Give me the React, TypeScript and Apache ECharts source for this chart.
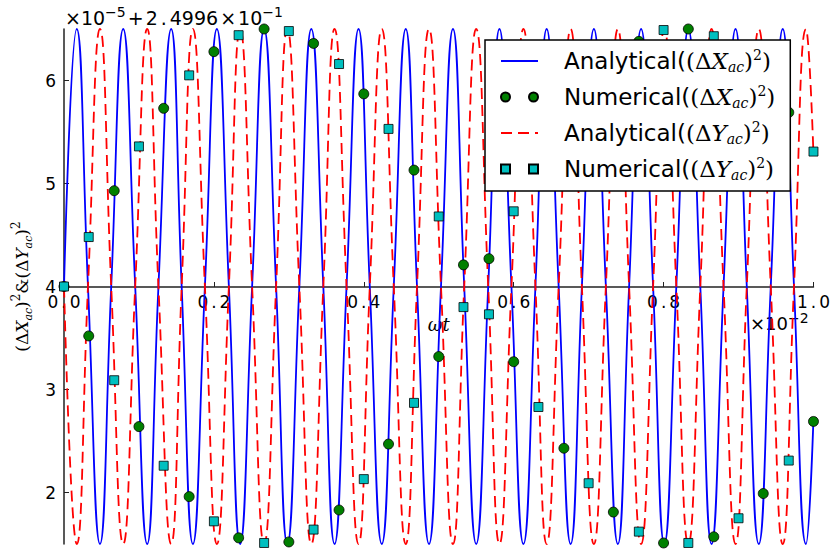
import React, { useEffect, useRef } from "react";
import * as echarts from "echarts";

// Analytical curves: key points (crossings, peaks, troughs)
const curveT = [
  0, 0.017, 0.032, 0.048, 0.063, 0.079, 0.095, 0.111, 0.126, 0.143, 0.157, 0.172,
  0.188, 0.204, 0.22, 0.235, 0.251, 0.267, 0.283, 0.298, 0.314, 0.33, 0.346, 0.361,
  0.377, 0.393, 0.408, 0.424, 0.44, 0.456, 0.471, 0.487, 0.503, 0.519, 0.534, 0.55,
  0.566, 0.581, 0.597, 0.613, 0.629, 0.644, 0.66, 0.676, 0.691, 0.707, 0.723, 0.739,
  0.754, 0.77, 0.786, 0.801, 0.817, 0.833, 0.849, 0.864, 0.88, 0.896, 0.911, 0.927,
  0.943, 0.959, 0.974, 0.99, 1.0,
];
const analyticalX = [
  4, 6.5, 4, 1.5, 4, 6.5, 4, 1.5, 4, 6.5, 4, 1.5,
  4, 6.5, 4, 1.5, 4, 6.5, 4, 1.5, 4, 6.5, 4, 1.5,
  4, 6.5, 4, 1.5, 4, 6.5, 4, 1.5, 4, 6.5, 4, 1.5,
  4, 6.5, 4, 1.5, 4, 6.5, 4, 1.5, 4, 6.5, 4, 1.5,
  4, 6.5, 4, 1.5, 4, 6.5, 4, 1.5, 4, 6.5, 4, 1.5,
  4, 6.5, 4, 1.5, 2.72,
];
const analyticalY = [
  4, 1.5, 4, 6.5, 4, 1.5, 4, 6.5, 4, 1.5, 4, 6.5,
  4, 1.5, 4, 6.5, 4, 1.5, 4, 6.5, 4, 1.5, 4, 6.5,
  4, 1.5, 4, 6.5, 4, 1.5, 4, 6.5, 4, 1.5, 4, 6.5,
  4, 1.5, 4, 6.5, 4, 1.5, 4, 6.5, 4, 1.5, 4, 6.5,
  4, 1.5, 4, 6.5, 4, 1.5, 4, 6.5, 4, 1.5, 4, 6.5,
  4, 1.5, 4, 6.5, 5.28,
];

// Numerical samples
const sampleT = [
  0, 0.033, 0.067, 0.1, 0.133, 0.167, 0.2, 0.233, 0.267, 0.3, 0.333, 0.367, 0.4,
  0.433, 0.467, 0.5, 0.533, 0.567, 0.6, 0.633, 0.667, 0.7, 0.733, 0.767, 0.8,
  0.833, 0.867, 0.9, 0.933, 0.967, 1.0,
];
const numericalX = [
  4.0, 3.52, 4.93, 2.64, 5.73, 1.96, 6.28, 1.56, 6.5, 1.52, 6.36, 1.83, 5.87,
  2.47, 5.13, 3.32, 4.21, 4.27, 3.27, 5.17, 2.43, 5.91, 1.81, 6.38, 1.51,
  6.5, 1.57, 6.25, 1.99, 5.69, 2.69,
];
const numericalY = [
  4.0, 4.48, 3.09, 5.36, 2.26, 6.05, 1.72, 6.44, 1.51, 6.48, 1.64, 6.16, 2.13,
  5.53, 2.87, 4.68, 3.8, 3.73, 4.73, 2.83, 5.57, 2.09, 6.19, 1.62, 6.49,
  1.51, 6.43, 1.75, 6.01, 2.31, 5.31,
];

const yTicks = [2, 3, 4, 5, 6];

const names = [
  "Analytical((ΔX_ac)^2)",
  "Numerical((ΔX_ac)^2)",
  "Analytical((ΔY_ac)^2)",
  "Numerical((ΔY_ac)^2)",
];
const legendRich: Record<string, string> = {
  [names[0]]: "{s|}Analytical({m|(Δ}{i|X}{sub|ac}{m|)}{sup|2}{m|)}",
  [names[1]]: "{s|}Numerical({m|(Δ}{i|X}{sub|ac}{m|)}{sup|2}{m|)}",
  [names[2]]: "{s|}Analytical({m|(Δ}{i|Y}{sub|ac}{m|)}{sup|2}{m|)}",
  [names[3]]: "{s|}Numerical({m|(Δ}{i|Y}{sub|ac}{m|)}{sup|2}{m|)}",
};

const zip = (a: number[], b: number[]) => a.map((v, i) => [v, b[i]]);

export default function App() {
  const ref = useRef<HTMLDivElement>(null);
  useEffect(() => {
    const chart = echarts.init(ref.current!, null, { renderer: "svg" });
    const axisColor = "#222";
    const option: any = {
      animation: false,
      backgroundColor: "#fff",
      grid: { left: 64, right: 18, top: 29, bottom: 8, containLabel: false },
      xAxis: {
        type: "value",
        min: 0,
        max: 1,
        interval: 0.2,
        position: "bottom",
        offset: -257,
        name: "ωt",
        nameLocation: "middle",
        nameGap: 28,
        nameTextStyle: { fontFamily: "DejaVu Serif", fontStyle: "italic", fontSize: 18, color: "#000", verticalAlign: "top" },
        axisLine: { show: true, lineStyle: { color: axisColor, width: 1.5 } },
        axisTick: { show: true, inside: true, length: 5, lineStyle: { color: axisColor, width: 1 } },
        splitLine: { show: false },
        axisLabel: {
          margin: 6,
          fontFamily: "DejaVu Sans",
          fontSize: 17,
          color: "#000",
          formatter: (v: number) => {
            const s = v.toFixed(1).split(".");
            return `${s[0]}{d|.}${s[1]}`;
          },
          rich: { d: { padding: [0, 3, 0, 3], fontSize: 17, fontFamily: "DejaVu Sans" } },
        },
      },
      yAxis: {
        type: "value",
        min: 1.5,
        max: 6.5,
        name: "{m|(Δ}{i|X}{sub|ac}{m|)}{sup|2}{m|&(Δ}{i|Y}{sub|ac}{m|)}{sup|2}",
        nameLocation: "middle",
        nameRotate: 90,
        nameGap: 27,
        nameTextStyle: {
          color: "#000",
          rich: {
            m: { fontFamily: "DejaVu Serif", fontSize: 17, lineHeight: 24, color: "#000" },
            i: { fontFamily: "DejaVu Serif", fontStyle: "italic", fontSize: 17, lineHeight: 24, color: "#000" },
            sub: { fontFamily: "DejaVu Serif", fontStyle: "italic", fontSize: 11, lineHeight: 12, verticalAlign: "bottom", color: "#000" },
            sup: { fontFamily: "DejaVu Serif", fontSize: 12, lineHeight: 12, verticalAlign: "top", color: "#000" },
          },
        },
        axisLine: { show: true, lineStyle: { color: axisColor, width: 1.5 } },
        axisTick: { show: true, inside: true, length: 5, customValues: yTicks, lineStyle: { color: axisColor, width: 1 } },
        splitLine: { show: false },
        axisLabel: {
          customValues: yTicks,
          margin: 8,
          fontFamily: "DejaVu Sans",
          fontSize: 17,
          color: "#000",
        },
      },
      legend: {
        orient: "vertical",
        left: 485,
        top: 40,
        backgroundColor: "#fff",
        borderColor: "#000",
        borderWidth: 1.5,
        borderRadius: 0,
        padding: [8, 15, 9, 15],
        itemGap: 10,
        itemWidth: 37,
        itemHeight: 10,
        data: [
          { name: names[0], itemStyle: { opacity: 0 } },
          { name: names[1], icon: "path://M0,4.5a4.5,4.5 0 1,0 9,0a4.5,4.5 0 1,0 -9,0zM28,4.5a4.5,4.5 0 1,0 9,0a4.5,4.5 0 1,0 -9,0z" },
          { name: names[2], itemStyle: { opacity: 0 } },
          { name: names[3], icon: "path://M0,0h9v9h-9zM28,0h9v9h-9z" },
        ],
        formatter: (name: string) => legendRich[name],
        textStyle: {
          fontFamily: "DejaVu Sans",
          fontSize: 23,
          lineHeight: 26,
          color: "#000",
          rich: {
            s: { width: 21 },
            m: { fontFamily: "DejaVu Serif", fontSize: 23, lineHeight: 26 },
            i: { fontFamily: "DejaVu Serif", fontStyle: "italic", fontSize: 23, lineHeight: 26 },
            sub: { fontFamily: "DejaVu Serif", fontStyle: "italic", fontSize: 14, lineHeight: 15, verticalAlign: "bottom" },
            sup: { fontFamily: "DejaVu Serif", fontSize: 14, lineHeight: 15, verticalAlign: "top" },
          },
        },
      },
      graphic: [
        {
          type: "text",
          left: 65,
          top: 5,
          style: {
            text: "{a|×10}{s|−5}{b|+}{a|2}{d|.}{a|4996}{b|×}{a|10}{s|−1}",
            rich: {
              a: { fontFamily: "DejaVu Sans", fontSize: 19, lineHeight: 25, fill: "#000" },
              b: { fontFamily: "DejaVu Sans", fontSize: 19, lineHeight: 25, padding: [0, 2, 0, 2], fill: "#000" },
              d: { fontFamily: "DejaVu Sans", fontSize: 19, lineHeight: 25, padding: [0, 3, 0, 3], fill: "#000" },
              s: { fontFamily: "DejaVu Sans", fontSize: 14, lineHeight: 14, verticalAlign: "top", fill: "#000" },
            },
          },
        },
        {
          type: "text",
          left: 750,
          top: 311,
          style: {
            text: "{a|×10}{s|−2}",
            rich: {
              a: { fontFamily: "DejaVu Sans", fontSize: 18, lineHeight: 24, fill: "#000" },
              s: { fontFamily: "DejaVu Sans", fontSize: 14, lineHeight: 14, verticalAlign: "top", fill: "#000" },
            },
          },
        },
      ],
      series: [
        {
          name: names[0],
          type: "line",
          data: zip(curveT, analyticalX),
          smooth: 0.5,
          showSymbol: false,
          symbol: "none",
          lineStyle: { color: "#0000ff", width: 1.8 },
          itemStyle: { color: "#0000ff" },
          z: 2,
        },
        {
          name: names[1],
          type: "scatter",
          data: zip(sampleT, numericalX),
          symbol: "circle",
          symbolSize: 10,
          clip: false,
          itemStyle: { color: "#008000", borderColor: "#000", borderWidth: 0.8, opacity: 1 },
          z: 3,
        },
        {
          name: names[2],
          type: "line",
          data: zip(curveT, analyticalY),
          smooth: 0.5,
          showSymbol: false,
          symbol: "none",
          lineStyle: { color: "#ff0000", width: 1.8, type: [11, 6] },
          itemStyle: { color: "#ff0000" },
          z: 2,
        },
        {
          name: names[3],
          type: "scatter",
          data: zip(sampleT, numericalY),
          symbol: "rect",
          symbolSize: 9,
          clip: false,
          itemStyle: { color: "#00bfbf", borderColor: "#000", borderWidth: 0.8, opacity: 1 },
          z: 3,
        },
      ],
    };
    chart.setOption(option);
    return () => chart.dispose();
  }, []);
  return (
    <div
      ref={ref}
      style={{ position: "absolute", left: 0, top: 0, width: 833, height: 552, background: "#fff" }}
    />
  );
}
